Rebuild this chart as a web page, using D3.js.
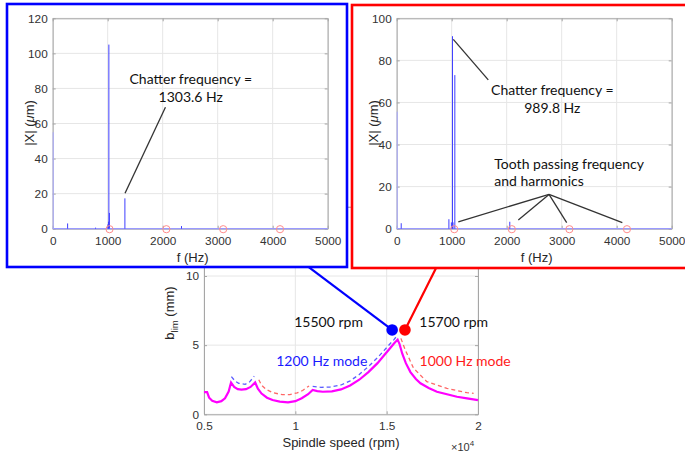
<!DOCTYPE html>
<html><head><meta charset="utf-8">
<script src="https://cdn.jsdelivr.net/npm/d3@7"></script>
<style>
html,body{margin:0;padding:0;background:#fff;}
svg text{font-family:"Liberation Sans",Arial,sans-serif;}
.ann{font-family:Lato,"Open Sans",sans-serif;}
</style>
</head><body>
<svg id="c" width="685" height="454"></svg>
<script>
// ---------- DATA ----------
// Stability lobes (bottom chart)
const lobeSpeed = [5000,5170,5280,5450,5700,5950,6150,6350,6480,6650,6850,7050,7300,7550,7800,7950,8150,8450,8750,9150,9600,10000,10350,10700,10950,11200,11500,12000,12500,13000,13500,14000,14500,14850,15150,15400,15600,15700,15850,16050,16300,16600,16850,17300,17750,18300,18850,19400,20000];
const lobeBlim  = [1.6,1.6,1.2,0.97,0.87,0.95,1.16,1.65,2.3,1.98,1.82,1.78,1.82,1.98,2.3,1.85,1.5,1.2,1.03,0.92,0.87,0.95,1.16,1.45,1.76,1.68,1.63,1.66,1.8,2.08,2.5,3.05,3.7,4.25,4.72,5.12,5.4,5.1,4.4,3.7,3.05,2.55,2.24,1.9,1.63,1.45,1.27,1.15,1.03];
const mode1200Speed = [6500,6700,6900,7250,7500,7750, null, 10950,11400,11900,12500,13000,13500,14000,14500,14850,15150,15400,15520];
const mode1200Blim  = [2.72,2.4,2.24,2.17,2.35,2.75, null, 2.02,1.95,1.97,2.12,2.42,2.88,3.45,4.1,4.6,5.05,5.4,5.6];
const mode1000Speed = [8000,8150,8400,8800,9300,9700,10100,10400,10750, null, 15780,16020,16470,17200,18300,19400,19760];
const mode1000Blim  = [2.5,2.1,1.8,1.55,1.42,1.42,1.55,1.72,2.05, null, 5.49,4.65,3.33,2.36,1.88,1.56,1.52];
const pointSpeed = [15300, 16000];
const pointBlim  = [6.1, 6.1];
const pointLabels = ["15500 rpm", "15700 rpm"];
const lobeXTicks = [5000, 10000, 15000, 20000];
const lobeXTickLabels = ["0.5", "1", "1.5", "2"];
const lobeYTicks = [0, 5, 10, 15];

// Spectrum at 15500 rpm (left)
const leftFreq = [0, 262, 770, 995, 1005, 1012, 1022, 1303.6, 2333];
const leftAmp  = [55, 3, 0.6, 2.5, 4, 105, 9, 17.3, 1.5];
const leftTooth = [1033.3, 2066.7, 3100, 4133.3];
// Spectrum at 15700 rpm (right)
const rightFreq = [0, 73, 940, 985, 1005, 1015, 1048, 2047];
const rightAmp  = [55.6, 2.6, 4.5, 3, 91.5, 3, 73, 3.3];
const rightTooth = [1046.7, 2093.3, 3140, 4186.7];
const fTicks = [0, 1000, 2000, 3000, 4000, 5000];
const leftYTicks = [0, 20, 40, 60, 80, 100, 120];
const rightYTicks = [0, 20, 40, 60, 80, 100];

// ---------- DRAW ----------
const svg = d3.select("#c");
svg.append("rect").attr("width",685).attr("height",454).attr("fill","#fff");

const gridC = "#e6e6e6", boxC = "#a6a6a6", tickTxt = "#333";

function axesBox(g, x, y, xt, yt, xfmt, yfmt, xpad) {
  const [x0,x1] = x.range(), [y0,y1] = y.range();
  g.append("g").selectAll("line").data(xt).join("line")
    .attr("x1",d=>x(d)).attr("x2",d=>x(d)).attr("y1",y0).attr("y2",y1)
    .attr("stroke",gridC).attr("stroke-width",1);
  g.append("g").selectAll("line").data(yt).join("line")
    .attr("y1",d=>y(d)).attr("y2",d=>y(d)).attr("x1",x0).attr("x2",x1)
    .attr("stroke",gridC).attr("stroke-width",1);
  const xa = g.append("g").attr("transform",`translate(0,${y0})`)
    .call(d3.axisBottom(x).tickValues(xt).tickSizeInner(-3).tickSizeOuter(0).tickPadding(xpad).tickFormat(xfmt));
  const xa2 = g.append("g").attr("transform",`translate(0,${y1})`)
    .call(d3.axisTop(x).tickValues(xt).tickSizeInner(-3).tickSizeOuter(0).tickFormat(""));
  const ya = g.append("g").attr("transform",`translate(${x0},0)`)
    .call(d3.axisLeft(y).tickValues(yt).tickSizeInner(-3).tickSizeOuter(0).tickPadding(5).tickFormat(yfmt));
  const ya2 = g.append("g").attr("transform",`translate(${x1},0)`)
    .call(d3.axisRight(y).tickValues(yt).tickSizeInner(-3).tickSizeOuter(0).tickFormat(""));
  [xa,xa2,ya,ya2].forEach(a=>{
    a.selectAll("path").attr("stroke",boxC).attr("stroke-width",1);
    a.selectAll("line").attr("stroke",boxC);
    a.selectAll("text").attr("fill",tickTxt).attr("font-size","11.8px")
      .attr("font-family",'"Liberation Sans",Arial,sans-serif');
  });
}

// ===== Bottom chart =====
const bx = d3.scaleLinear().domain([5000,20000]).range([204,478]);
const by = d3.scaleLinear().domain([0,15]).range([414.3,414.3-15*13.83]);
const gb = svg.append("g");
axesBox(gb, bx, by, lobeXTicks, lobeYTicks, (d,i)=>lobeXTickLabels[i], d3.format("d"), 7.5);

const lineB = d3.line().defined((d)=>d[0]!==null).x(d=>bx(d[0])).y(d=>by(d[1]));
gb.append("path").datum(mode1200Speed.map((s,i)=>[s,mode1200Blim[i]]))
  .attr("d",lineB).attr("fill","none").attr("stroke","#5c5cff").attr("stroke-width",1.3).attr("stroke-dasharray","4,3");
gb.append("path").datum(mode1000Speed.map((s,i)=>[s,mode1000Blim[i]]))
  .attr("d",lineB).attr("fill","none").attr("stroke","#ff6666").attr("stroke-width",1.3).attr("stroke-dasharray","4,3");
gb.append("path").datum(lobeSpeed.map((s,i)=>[s,lobeBlim[i]]))
  .attr("d",lineB).attr("fill","none").attr("stroke","#ff00ff").attr("stroke-width",2.2);

// connecting lines from markers up to the panels
const connColors = ["#0000ff","#ff0000"];
const connEnd = [[8565,12.8],[18550,12.8]];
pointSpeed.forEach((s,i)=>{
  gb.append("line").attr("x1",bx(s)).attr("y1",by(pointBlim[i]))
    .attr("x2",bx(connEnd[i][0])).attr("y2",by(connEnd[i][1]))
    .attr("stroke",connColors[i]).attr("stroke-width",2.2);
});
pointSpeed.forEach((s,i)=>{
  gb.append("circle").attr("cx",bx(s)).attr("cy",by(pointBlim[i])).attr("r",5.8).attr("fill",connColors[i]);
});
// labels
const annSize = "14px";
gb.append("text").attr("class","ann").attr("x",bx(13700)).attr("y",by(6.3)).attr("text-anchor","end")
  .attr("font-size",annSize).attr("fill","#111").text(pointLabels[0]);
gb.append("text").attr("class","ann").attr("x",bx(16790)).attr("y",by(6.3)).attr("text-anchor","start")
  .attr("font-size",annSize).attr("fill","#111").text(pointLabels[1]);
gb.append("text").attr("class","ann").attr("x",bx(8950)).attr("y",by(3.5)).attr("text-anchor","start")
  .attr("font-size",annSize).attr("fill","#1a1aff").text("1200 Hz mode");
gb.append("text").attr("class","ann").attr("x",bx(16800)).attr("y",by(3.5)).attr("text-anchor","start")
  .attr("font-size",annSize).attr("fill","#ff1a1a").text("1000 Hz mode");
// axis labels
gb.append("text").attr("x",341).attr("y",447).attr("text-anchor","middle").attr("font-size","13px").attr("fill","#262626").text("Spindle speed (rpm)");
const ylab = gb.append("text").attr("transform","translate(174,313) rotate(-90)").attr("text-anchor","middle").attr("font-size","13px").attr("fill","#262626");
ylab.append("tspan").text("b");
ylab.append("tspan").attr("font-size","9.5px").attr("dy",4).text("lim");
ylab.append("tspan").attr("dy",-4).text(" (mm)");
const mult = gb.append("text").attr("x",451).attr("y",451).attr("font-size","11px").attr("fill","#333");
mult.append("tspan").text("×10");
mult.append("tspan").attr("font-size","8px").attr("dy",-5).text("4");

// ===== Panels =====
function panel(opt) {
  const g = svg.append("g");
  g.append("rect").attr("x",opt.fx).attr("y",opt.fy).attr("width",opt.fw).attr("height",opt.fh)
    .attr("fill","#fff").attr("stroke",opt.frame).attr("stroke-width",2.6);
  const x = d3.scaleLinear().domain([0,5000]).range([opt.px,opt.px+275]);
  const y = d3.scaleLinear().domain([0,opt.ymax]).range([228.7,18.3]);
  axesBox(g, x, y, fTicks, opt.yt, d3.format("d"), d3.format("d"), 8);
  // spectrum baseline
  g.append("line").attr("x1",x(0)).attr("x2",x(5000)).attr("y1",y(0)).attr("y2",y(0))
    .attr("stroke","#9a9aff").attr("stroke-width",1.2);
  // spectral lines
  g.append("g").selectAll("line").data(opt.freq.map((f,i)=>[f,opt.amp[i]])).join("line")
    .attr("x1",d=>x(d[0])+0.5).attr("x2",d=>x(d[0])+0.5).attr("y1",y(0)).attr("y2",d=>y(d[1]))
    .attr("stroke",(d)=>d[0]===0?"#a8a8ff":"#3d3dff").attr("stroke-width",1);
  // tooth passing markers
  g.append("g").selectAll("circle").data(opt.tooth).join("circle")
    .attr("cx",d=>x(d)).attr("cy",y(0)+0.5).attr("r",3.6)
    .attr("fill","none").attr("stroke","#ff8c8c").attr("stroke-width",1);
  // labels
  g.append("text").attr("x",opt.px+140).attr("y",262).attr("text-anchor","middle").attr("font-size","13px").attr("fill","#262626").text("f (Hz)");
  const yl = g.append("text").attr("transform",`translate(${opt.px-19},123) rotate(-90)`).attr("text-anchor","middle").attr("font-size","13px").attr("fill","#262626");
  yl.append("tspan").text("|X| (");
  yl.append("tspan").attr("font-style","italic").text("μ");
  yl.append("tspan").text("m)");
  return {g,x,y};
}

const L = panel({fx:7,fy:4,fw:340,fh:263,frame:"#0000ff",px:52.7,ymax:120,yt:leftYTicks,
  freq:leftFreq,amp:leftAmp,tooth:leftTooth});
const R = panel({fx:352,fy:5,fw:345,fh:263,frame:"#ff0000",px:396.7,ymax:100,yt:rightYTicks,
  freq:rightFreq,amp:rightAmp,tooth:rightTooth});

const annC = "#333";
function annLine(P, a, b){
  P.g.append("line").attr("x1",P.x(a[0])).attr("y1",P.y(a[1])).attr("x2",P.x(b[0])).attr("y2",P.y(b[1]))
    .attr("stroke",annC).attr("stroke-width",1.3);
}
function annText(P, f, v, txt, anchor){
  P.g.append("text").attr("class","ann").attr("x",P.x(f)).attr("y",P.y(v)).attr("text-anchor",anchor)
    .attr("font-size",annSize).attr("fill","#111").text(txt);
}
// left annotation
annText(L, 2510, 82.5, "Chatter frequency =", "middle");
annText(L, 2510, 72.3, "1303.6 Hz", "middle");
annLine(L, [2050,69.3], [1315,20.2]);
// right annotations
annText(R, 2830, 63.5, "Chatter frequency =", "middle");
annText(R, 2830, 55, "989.8 Hz", "middle");
annLine(R, [1029,90], [1665,70.7]);
annText(R, 1775, 28.6, "Tooth passing frequency", "start");
annText(R, 1775, 20.5, "and harmonics", "start");
const hub = [2769,16.3];
[[1120,3.3],[2211,4.1],[3091,2.85],[4102,2.85]].forEach(e=>annLine(R, hub, e));
</script>
</body></html>
